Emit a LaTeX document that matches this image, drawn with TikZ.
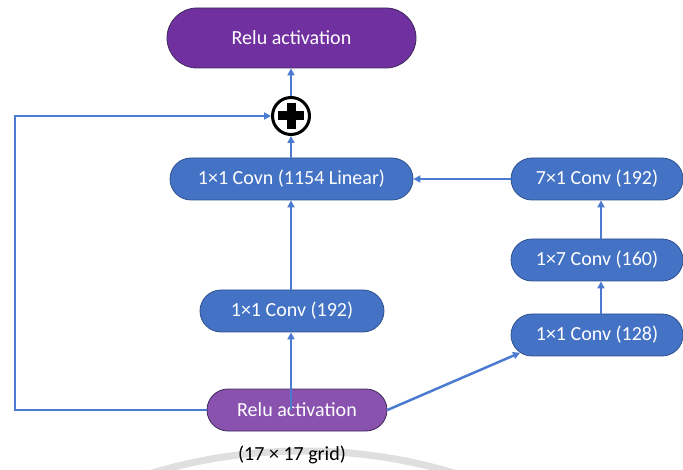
\documentclass[tikz,border=0pt]{standalone}
\usepackage{fontspec}
\setmainfont{Carlito}
\usetikzlibrary{shapes.misc,arrows.meta,calc}
\definecolor{convblue}{HTML}{4472C4}
\definecolor{convedge}{HTML}{2F528F}
\definecolor{reludark}{HTML}{7030A0}
\definecolor{relulight}{HTML}{8952AE}
\definecolor{reluedge}{HTML}{3E2A5C}
\definecolor{linkblue}{HTML}{4A7BD0}
\tikzset{
  pill/.style={rounded rectangle, inner sep=0pt, text=white,
    font=\fontsize{20}{22}\selectfont, line width=0.8pt},
  convbox/.style={pill, fill=convblue, draw=convedge, minimum height=42pt},
  relubox/.style={pill, draw=reluedge},
  link/.style={draw=linkblue, line width=2pt,
    -{Triangle[length=7pt,width=7pt]}},
  thicklink/.style={link, line width=2.5pt},
}
\begin{document}
\begin{tikzpicture}[x=1pt,y=-1pt]
  \useasboundingbox (0,0) rectangle (683,470);

  % faint background arc along the lower edge
  \begin{scope}
    \clip (0,0) rectangle (683,470);
    \draw[gray!25, line width=7pt] (303,976) circle[radius=525pt];
  \end{scope}

  % main column
  \node[relubox, fill=reludark, minimum width=249pt, minimum height=60pt]
    (toprelu) at (291.5,38) {Relu activation};
  \node[circle, draw=black, line width=3pt, fill=white, minimum size=37pt,
    inner sep=0pt] (plus) at (291,116) {};
  \draw[black, line width=9pt] ($(plus.center)+(-13,0)$) -- ($(plus.center)+(13,0)$);
  \draw[black, line width=9pt] ($(plus.center)+(0,-13)$) -- ($(plus.center)+(0,13)$);
  \node[convbox, minimum width=243pt] (lin) at (291.5,179) {1×1 Covn (1154 Linear)};
  \node[convbox, minimum width=184pt] (c192) at (292,311) {1×1 Conv (192)};
  \node[relubox, fill=relulight, minimum width=180pt, minimum height=42pt]
    (botrelu) at (297,410) {Relu activation};
  \node[font=\fontsize{20}{22}\selectfont, text=black] (grid) at (292,455)
    {(17 × 17 grid)};

  % right branch
  \node[convbox, minimum width=172pt] (c71) at (597,179) {7×1 Conv (192)};
  \node[convbox, minimum width=172pt] (c17) at (597,260) {1×7 Conv (160)};
  \node[convbox, minimum width=172pt] (c128) at (597,335) {1×1 Conv (128)};

  % connectors
  \draw[link] (plus.south |- botrelu.center) -- (plus.south |- c192.south);
  \draw[link] (plus.south |- c192.north) -- (plus.south |- lin.south);
  \draw[link] (lin.north -| plus.south) -- (plus.south);
  \draw[link] (plus.north) -- (plus.north |- toprelu.south);
  \draw[link] (c71.west) -- (lin.east);
  \draw[link] ([xshift=4pt]c17.north) -- ([xshift=4pt]c71.south);
  \draw[link] ([xshift=4pt]c128.north) -- ([xshift=4pt]c17.south);
  \draw[thicklink] (botrelu.east) -- (c128.193);
  \coordinate (skipl) at (15,0);
  \draw[thicklink] (botrelu.west) -| (skipl |- plus.west) -- (plus.west);
\end{tikzpicture}
\end{document}
